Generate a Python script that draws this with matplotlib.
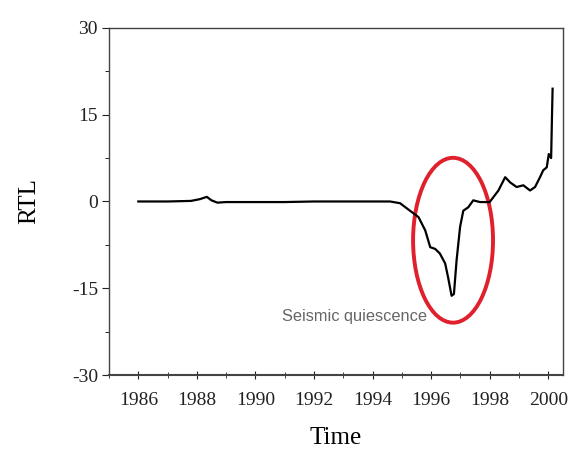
import matplotlib.pyplot as plt
from matplotlib.patches import Ellipse
from matplotlib.ticker import MultipleLocator

# RTL curve
years = [1986.0, 1987.0, 1987.8, 1988.1, 1988.34, 1988.5, 1988.7, 1989.0, 1990.0, 1991.0,
         1992.0, 1993.0, 1994.0, 1994.6, 1994.94, 1995.28, 1995.57, 1995.8, 1995.97,
         1996.14, 1996.3, 1996.48, 1996.58, 1996.7, 1996.78, 1996.87, 1996.99, 1997.1,
         1997.27, 1997.44, 1997.67, 1998.0, 1998.3, 1998.53, 1998.7, 1998.92, 1999.15,
         1999.38, 1999.55, 1999.72, 1999.83, 1999.95, 2000.02, 2000.1, 2000.13, 2000.15]
rtl = [0.0, 0.0, 0.1, 0.4, 0.8, 0.2, -0.2, -0.1, -0.1, -0.1,
       0.0, 0.0, 0.0, 0.0, -0.3, -1.6, -2.7, -5.0, -7.9,
       -8.2, -9.0, -10.7, -13.1, -16.3, -16.0, -10.2, -4.4, -1.6,
       -1.0, 0.2, -0.1, -0.1, 1.9, 4.2, 3.3, 2.5, 2.8,
       1.9, 2.5, 4.2, 5.4, 5.9, 8.2, 7.5, 15.0, 19.5]

xticks = [1986, 1988, 1990, 1992, 1994, 1996, 1998, 2000]
yticks = [-30, -15, 0, 15, 30]

plt.rcParams['font.family'] = ['Liberation Serif', 'DejaVu Serif']
plt.rcParams['axes.unicode_minus'] = False

fig = plt.figure(figsize=(5.72, 4.51), dpi=100)
ax = fig.add_axes([0.1906, 0.1685, 0.7934, 0.7695])

ax.plot(years, rtl, color='black', lw=1.6)

ax.add_patch(Ellipse((1996.75, -6.7), 2.73, 28.5, fill=False, edgecolor='#e0202c', lw=2.8))
ax.text(1990.9, -19.8, 'Seismic quiescence', fontsize=11.8, color='#666666',
        family=['Liberation Sans', 'DejaVu Sans'], va='center')

ax.set_xlim(1985.0, 2000.5)
ax.set_ylim(-30, 30)
ax.set_xticks(xticks)
ax.set_yticks(yticks)
ax.xaxis.set_minor_locator(MultipleLocator(1))
ax.yaxis.set_minor_locator(MultipleLocator(7.5))
ax.tick_params(axis='x', which='both', direction='inout', length=6, labelsize=14,
               colors='#222222', pad=9)
ax.tick_params(axis='y', which='major', direction='out', length=5, labelsize=14,
               colors='#222222', pad=3)
ax.tick_params(axis='y', which='minor', direction='out', length=3)
ax.tick_params(axis='x', which='minor', length=4)
for s in ax.spines.values():
    s.set_color('#444444')
    s.set_linewidth(1.0)
ax.spines['bottom'].set_linewidth(1.5)

ax.set_xlabel('Time', fontsize=18, labelpad=13)
ax.set_ylabel('RTL', fontsize=18, labelpad=23)

fig.savefig('out.png', dpi=100)
